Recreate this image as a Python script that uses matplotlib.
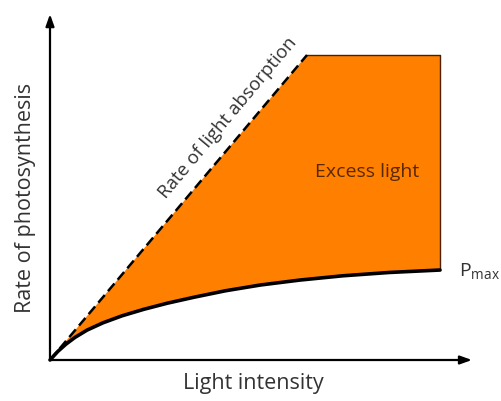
import matplotlib
matplotlib.use("Agg")
import matplotlib.pyplot as plt
import numpy as np

# Data (arbitrary units)
curve_x = [0, 0.20, 0.41, 0.64, 0.95, 1.36, 1.85, 2.40, 3.00, 3.70, 4.50, 5.40, 6.40, 7.50, 8.70, 10.0]
curve_y = [0, 0.28, 0.52, 0.74, 0.98, 1.22, 1.45, 1.66, 1.86, 2.06, 2.27, 2.46, 2.62, 2.76, 2.87, 2.95]
absorb_x = [0, 6.59, 10.0]
absorb_y = [0, 10.0, 10.0]
axis_x_max = 10.82
axis_y_max = 11.34

orange = "#FF8000"
textc = "#333333"

fig = plt.figure(figsize=(5.01, 4.01), dpi=100)
ax = fig.add_axes([0, 0, 1, 1])
ax.set_xlim(-50/39, (501-50)/39)
ax.set_ylim((360-401)/30.5, 360/30.5)
ax.axis("off")

# filled excess-light region
poly_x = absorb_x + curve_x[::-1]
poly_y = absorb_y + curve_y[::-1]
ax.fill(poly_x, poly_y, color=orange, zorder=1, lw=0)
# outline top and right edge
ax.plot([absorb_x[1], absorb_x[2], absorb_x[2]], [absorb_y[1], absorb_y[2], curve_y[-1]],
        color="#4a2000", lw=1.0, zorder=2)
# dashed absorption line
ax.plot(absorb_x[:2], absorb_y[:2], color="black", lw=1.8, ls=(0, (4, 2)), zorder=3)
# photosynthesis curve
ax.plot(curve_x, curve_y, color="black", lw=2.6, zorder=4, solid_capstyle="round",
        solid_joinstyle="round")

# axes arrows
ax.annotate("", xy=(axis_x_max, 0), xytext=(0, 0),
            arrowprops=dict(arrowstyle="-|>,head_length=0.7,head_width=0.25", color="black", lw=1.6,
                            shrinkA=0, shrinkB=0), zorder=5)
ax.annotate("", xy=(0, axis_y_max), xytext=(0, 0),
            arrowprops=dict(arrowstyle="-|>,head_length=0.7,head_width=0.25", color="black", lw=1.6,
                            shrinkA=0, shrinkB=0), zorder=5)

font = "Open Sans"
ax.text((253-50)/39, (360-383)/30.5, "Light intensity", ha="center", va="center",
        fontsize=15.5, color=textc, family=font)
ax.text((25-50)/39, (360-198)/30.5, "Rate of photosynthesis", ha="center", va="center",
        rotation=90, fontsize=15.5, color=textc, family=font)
ax.text((228-50)/39, (360-118)/30.5, "Rate of light absorption", ha="center", va="center",
        rotation=50, fontsize=13.5, color=textc, family=font, rotation_mode="anchor")
ax.text((367-50)/39, (360-172)/30.5, "Excess light", ha="center", va="center",
        fontsize=14, color="#5a2800", family=font)
ax.text((459-50)/39, (360-272)/30.5, "P$_{\\mathregular{max}}$", ha="left", va="center",
        fontsize=14, color=textc, family=font)

fig.savefig("out.png", dpi=100)
